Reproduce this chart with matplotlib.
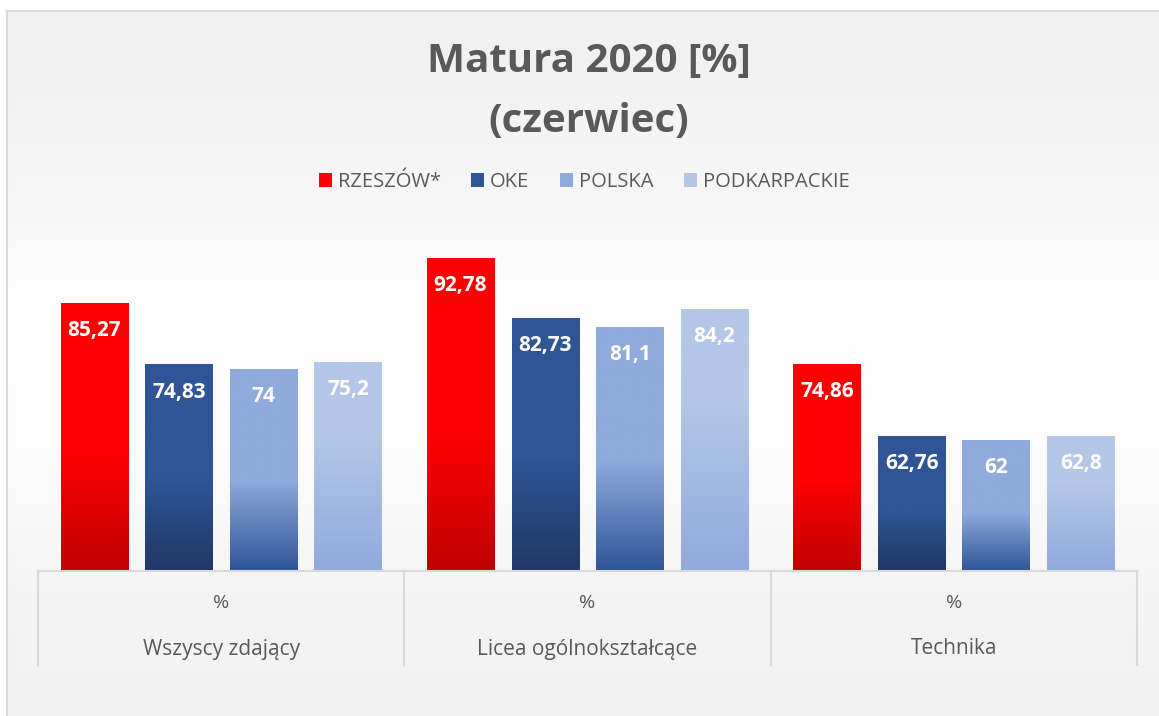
import numpy as np
import matplotlib.pyplot as plt
from matplotlib.colors import LinearSegmentedColormap
from matplotlib.patches import Patch
from matplotlib.lines import Line2D
from matplotlib.transforms import blended_transform_factory

plt.rcParams['font.family'] = ['Open Sans', 'DejaVu Sans']

# ---- data ----
groups = ["Wszyscy zdający", "Licea ogólnokształcące", "Technika"]
sub_label = "%"
series_names = ["RZESZÓW*", "OKE", "POLSKA", "PODKARPACKIE"]
rzeszow = [85.27, 92.78, 74.86]
oke = [74.83, 82.73, 62.76]
polska = [74.0, 81.1, 62.0]
podkarpackie = [75.2, 84.2, 62.8]
title_lines = ["Matura 2020 [%]", "(czerwiec)"]

series_values = [rzeszow, oke, polska, podkarpackie]

# gradient stops (top -> bottom)
grad_stops = [
    [(0.0, "#ff0000"), (0.55, "#ff0000"), (1.0, "#c00000")],
    [(0.0, "#2f5597"), (0.55, "#2f5597"), (1.0, "#203864")],
    [(0.0, "#8faadc"), (0.55, "#8faadc"), (1.0, "#2f5597")],
    [(0.0, "#b4c7e7"), (0.35, "#b4c7e7"), (1.0, "#8faadc")],
]
legend_cols = ["#ff0000", "#2f5597", "#8faadc", "#b4c7e7"]

W, H = 1159, 716
fig = plt.figure(figsize=(W / 100, H / 100), dpi=100)
fig.patch.set_facecolor("white")

# ---- background panel ----
bg = fig.add_axes([0, 0, 1, 1], zorder=0)
bg.set_xlim(0, W)
bg.set_ylim(H, 0)
bg.axis("off")
bg_cmap = LinearSegmentedColormap.from_list(
    "bg",
    [(0.0, "#f0f0f0"), (0.3, "#f8f8f8"), (0.42, "#fefefe"), (0.62, "#fcfcfc"),
     (0.82, "#f5f5f5"), (1.0, "#f2f2f2")])
grad = np.linspace(0, 1, 256).reshape(-1, 1)
bg.imshow(grad, cmap=bg_cmap, aspect="auto", extent=(7, W, H, 11),
          interpolation="bilinear", zorder=0)
bg.plot([7, W], [11, 11], color="#d9d9d9", lw=1.5, zorder=1)
bg.plot([7, 7], [11, H], color="#d9d9d9", lw=1.5, zorder=1)

# ---- main axes ----
ax_left, ax_right, ax_bottom_px, ax_top_px = 38, 1137, 571, 216
ax = fig.add_axes([ax_left / W, (H - ax_bottom_px) / H,
                   (ax_right - ax_left) / W, (ax_bottom_px - ax_top_px) / H],
                  zorder=2)
ax.set_facecolor("none")
for s in ax.spines.values():
    s.set_visible(False)
ax.set_xticks([])
ax.set_yticks([])

x = np.arange(len(groups))
spacing = 0.2309
width = 0.184
for i, vals in enumerate(series_values):
    cmap = LinearSegmentedColormap.from_list(f"s{i}", grad_stops[i])
    for g, v in enumerate(vals):
        xc = x[g] + (i - 1.5) * spacing
        x0, x1 = xc - width / 2, xc + width / 2
        ax.bar(xc, v - 40, width=width, bottom=40, color="none", zorder=3)
        ax.imshow(grad, cmap=cmap, aspect="auto", extent=(x0, x1, 40, v),
                  interpolation="bilinear", zorder=3)
        ax.annotate(f"{v:g}".replace(".", ","), (xc, v), xytext=(0, -19.5),
                    textcoords="offset points", ha="center", va="center",
                    color="white", fontsize=15, fontweight="bold", zorder=5)
ax.set_xlim(-0.5, 2.5)
ax.set_ylim(40, 100)

# ---- category axis (multi-level) ----
trans = blended_transform_factory(ax.transData, fig.transFigure)
line_col = "#d9d9d9"
ax.add_line(Line2D([-0.5, 2.5], [(H - 571) / H] * 2, transform=trans,
                   color=line_col, lw=1.5, clip_on=False, zorder=4))
for b in np.arange(-0.5, 3.0, 1.0):
    ax.add_line(Line2D([b, b], [(H - 571) / H, (H - 665) / H], transform=trans,
                       color=line_col, lw=1.5, clip_on=False, zorder=4))
for g, name in enumerate(groups):
    ax.text(x[g], (H - 603) / H, sub_label, transform=trans, ha="center",
            va="center", fontsize=14, color="#595959")
    ax.text(x[g], (H - 649) / H, name, transform=trans, ha="center",
            va="center", fontsize=15, color="#595959")

# ---- title ----
tx = 589 / W
fig.text(tx, (H - 62) / H, title_lines[0], ha="center", va="center",
         fontsize=29, fontweight="bold", color="#595959")
fig.text(tx, (H - 121) / H, title_lines[1], ha="center", va="center",
         fontsize=29, fontweight="bold", color="#595959")

# ---- legend ----
handles = [Patch(facecolor=c, edgecolor="none") for c in legend_cols]
fig.legend(handles, series_names, loc="center", ncol=4,
           bbox_to_anchor=(0.5 * (318 + 850) / W, (H - 182) / H),
           frameon=False, fontsize=14.5, labelcolor="#595959",
           handlelength=0.65, handleheight=0.65, handletextpad=0.3,
           columnspacing=1.5)

fig.savefig("out.png", dpi=100)
